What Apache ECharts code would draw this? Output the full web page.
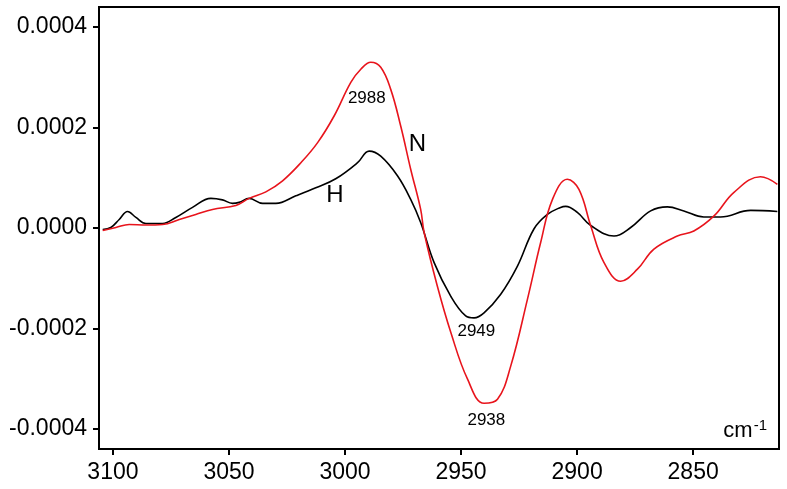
<!DOCTYPE html>
<html>
<head>
<meta charset="utf-8">
<script src="https://cdn.jsdelivr.net/npm/echarts@6/dist/echarts.min.js"></script>
<style>
  html, body { margin: 0; padding: 0; background: #fff; }
  #chart { width: 787px; height: 489px; }
</style>
</head>
<body>
<div id="chart"></div>
<script>
// wavenumber (cm-1) and absorbance
var hWave = [3104.4, 3100.9, 3097.3, 3093.7, 3090.1, 3085.8, 3078.6, 3072.9, 3065.7, 3057.8,
  3052.8, 3048.5, 3045.6, 3041.3, 3035.5, 3029.8, 3021.2, 3012.6, 3004.0, 2994.6,
  2989.6, 2984.6, 2977.4, 2971.7, 2967.4, 2961.6, 2954.4, 2948.0, 2944.4, 2940.1,
  2932.9, 2925.7, 2918.6, 2912.8, 2907.1, 2904.9, 2899.9, 2894.1, 2884.1, 2876.9,
  2868.3, 2861.1, 2854.0, 2845.4, 2838.2, 2825.2, 2813.7];
var hAbs = [-0.03e-4, 0.01e-4, 0.17e-4, 0.33e-4, 0.21e-4, 0.09e-4, 0.09e-4, 0.21e-4, 0.41e-4, 0.59e-4,
  0.56e-4, 0.49e-4, 0.51e-4, 0.59e-4, 0.49e-4, 0.49e-4, 0.64e-4, 0.80e-4, 0.98e-4, 1.30e-4,
  1.53e-4, 1.43e-4, 1.04e-4, 0.57e-4, 0.11e-4, -0.69e-4, -1.36e-4, -1.75e-4, -1.79e-4, -1.69e-4,
  -1.32e-4, -0.76e-4, -0.02e-4, 0.27e-4, 0.41e-4, 0.43e-4, 0.31e-4, 0.05e-4, -0.16e-4, 0.01e-4,
  0.34e-4, 0.42e-4, 0.34e-4, 0.22e-4, 0.22e-4, 0.35e-4, 0.33e-4];

var nWave = [3104.4, 3098.7, 3093.0, 3085.8, 3078.6, 3071.4, 3064.3, 3057.1, 3047.0, 3041.3,
  3034.1, 3026.9, 3019.0, 3011.8, 3004.7, 2997.5, 2993.2, 2988.9, 2984.6,
  2980.3, 2976.0, 2971.7, 2967.4, 2965.9, 2960.2, 2954.4, 2947.2, 2940.1, 2934.3,
  2928.6, 2921.4, 2915.7, 2910.6, 2904.2, 2899.2, 2894.1, 2888.4,
  2881.2, 2874.0, 2866.9, 2856.8, 2849.7, 2841.0, 2832.4, 2821.0, 2813.7];
var nAbs = [-0.05e-4, 0.01e-4, 0.07e-4, 0.06e-4, 0.07e-4, 0.17e-4, 0.27e-4, 0.37e-4, 0.45e-4, 0.59e-4,
  0.72e-4, 0.94e-4, 1.30e-4, 1.70e-4, 2.23e-4, 2.90e-4, 3.16e-4, 3.30e-4, 3.20e-4,
  2.76e-4, 2.03e-4, 1.17e-4, 0.37e-4, -0.09e-4, -1.16e-4, -2.08e-4, -3.01e-4, -3.49e-4, -3.41e-4,
  -2.75e-4, -1.42e-4, -0.29e-4, 0.57e-4, 0.97e-4, 0.77e-4, 0.04e-4, -0.69e-4,
  -1.06e-4, -0.82e-4, -0.42e-4, -0.16e-4, -0.06e-4, 0.24e-4, 0.71e-4, 1.02e-4, 0.87e-4];

var xTicks = [3100, 3050, 3000, 2950, 2900, 2850];
var yTicks = [-0.0004, -0.0002, 0, 0.0002, 0.0004];

// peak labels: [wavenumber, absorbance, text]
var hNotes = [[3004.4, 0.65e-4, 'H'], [2943.4, -2.06e-4, '2949']];
var nNotes = [[2968.8, 1.67e-4, 'N'], [2990.6, 2.58e-4, '2988'], [2939.1, -3.83e-4, '2938']];

function pairs (xs, ys) {
  return xs.map(function (x, i) { return [x, ys[i]] })
}
function notes (list) {
  return list.map(function (n) {
    var big = n[2].length === 1
    return {
      coord: [n[0], n[1]],
      label: { formatter: n[2], fontSize: big ? 24 : 17 }
    }
  })
}
function markPoints (list) {
  return {
    symbol: 'circle',
    symbolSize: 0,
    silent: true,
    label: {
      show: true, position: 'inside', color: '#000',
      fontFamily: 'Liberation Sans'
    },
    data: notes(list)
  }
}

var FONT = 'Liberation Sans'
var chart = echarts.init(document.getElementById('chart'))
var option = {
  animation: false,
  backgroundColor: '#fff',
  grid: {
    left: 99, top: 7, right: 8, bottom: 40,
    show: true, borderColor: '#000', borderWidth: 2
  },
  xAxis: {
    type: 'value',
    inverse: true,
    min: 2813,
    max: 3106,
    splitLine: { show: false },
    axisLine: { show: true, onZero: false, lineStyle: { color: '#000', width: 2 } },
    axisTick: { show: true, customValues: xTicks, length: 6, lineStyle: { color: '#000', width: 2 } },
    axisLabel: {
      customValues: xTicks, color: '#000', fontSize: 23, fontFamily: FONT, margin: 12,
      formatter: function (v) { return String(v) }
    }
  },
  yAxis: {
    type: 'value',
    min: -0.00044,
    max: 0.00044,
    splitLine: { show: false },
    axisLine: { show: true, onZero: false, lineStyle: { color: '#000', width: 2 } },
    axisTick: { show: true, customValues: yTicks, length: 6, lineStyle: { color: '#000', width: 2 } },
    axisLabel: {
      customValues: yTicks, color: '#000', fontSize: 23, fontFamily: FONT, margin: 12,
      formatter: function (v) { return v.toFixed(4) }
    }
  },
  series: [
    {
      name: 'H', type: 'line', data: pairs(hWave, hAbs),
      smooth: 0.4, showSymbol: false,
      lineStyle: { color: '#000', width: 1.6 },
      markPoint: markPoints(hNotes)
    },
    {
      name: 'N', type: 'line', data: pairs(nWave, nAbs),
      smooth: 0.4, showSymbol: false,
      lineStyle: { color: '#e8141c', width: 1.6 },
      markPoint: markPoints(nNotes)
    }
  ],
  graphic: [
    {
      type: 'text', right: 20, bottom: 47,
      style: {
        text: 'cm{s|-1}', fill: '#000', font: '22px "Liberation Sans"',
        rich: { s: { fontSize: 15, fontFamily: FONT, verticalAlign: 'top', padding: [0, 0, 10, 1] } }
      }
    }
  ]
}
chart.setOption(option)
</script>
</body>
</html>
